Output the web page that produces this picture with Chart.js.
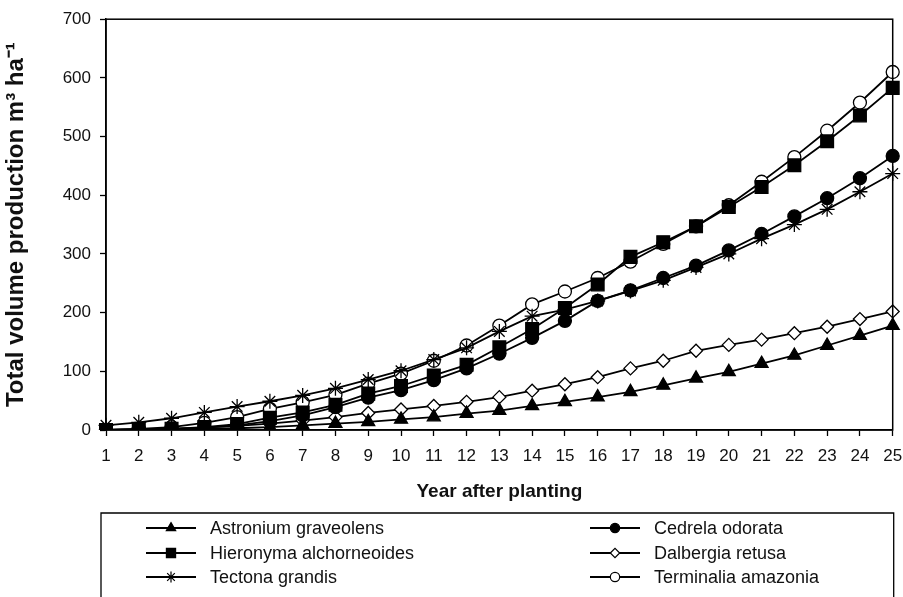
<!DOCTYPE html>
<html lang="en">
<head>
  <meta charset="UTF-8">
  <title>Total volume production</title>
  <script src="https://cdn.jsdelivr.net/npm/chart.js"></script>
  <style>
    body {
      margin: 0;
      background: #fff;
    }
    canvas {
      display: block;
    }
  </style>
</head>
<body>
  <canvas id="volumeChart" width="903" height="597"></canvas>

  <script>
    // data (m3 per ha)
    const years = [1, 2, 3, 4, 5, 6, 7, 8, 9, 10, 11, 12, 13, 14, 15, 16, 17, 18, 19, 20, 21, 22, 23, 24, 25];
    const yTicks = [0, 100, 200, 300, 400, 500, 600, 700];

    const astronium = [0, 0.5, 1, 2, 3, 5, 8, 11, 14, 18, 22, 28, 33, 41, 48, 56, 65, 76, 88, 99, 113, 127, 144, 161, 178];
    const cedrela = [0, 1, 2, 4, 8, 15, 25, 39, 55, 68, 85, 105, 130, 157, 186, 220, 238, 259, 280, 306, 334, 364, 395, 429, 467];
    const hieronyma = [0, 1, 2, 5, 10, 21, 30, 43, 62, 75, 93, 111, 141, 172, 208, 248, 295, 320, 347, 380, 414, 451, 492, 536, 583];
    const dalbergia = [0, 1, 2, 4, 7, 11, 16, 22, 29, 35, 41, 48, 56, 67, 78, 90, 105, 118, 135, 145, 154, 165, 176, 189, 202];
    const tectona = [8, 13, 20, 30, 40, 49, 59, 71, 86, 101, 120, 140, 168, 194, 205, 220, 237, 255, 277, 300, 326, 350, 376, 406, 437];
    const terminalia = [0, 2, 5, 12, 22, 36, 47, 60, 79, 96, 118, 144, 178, 214, 236, 259, 287, 317, 347, 383, 423, 465, 510, 558, 610];

    const FONT = "'Liberation Sans', Arial, Helvetica, sans-serif";

    function series(label, data, style, fill, radius) {
      return {
        label: label,
        data: data,
        borderColor: '#000',
        borderWidth: 1.8,
        pointStyle: style,
        pointRadius: radius,
        pointBackgroundColor: fill,
        pointBorderColor: '#000',
        pointBorderWidth: 1.3,
        tension: 0
      };
    }

    // box around the plot area
    const frame = {
      id: 'frame',
      afterDatasetsDraw(chart) {
        const a = chart.chartArea, ctx = chart.ctx;
        ctx.save();
        ctx.strokeStyle = '#000';
        ctx.lineWidth = 1.5;
        ctx.strokeRect(a.left, a.top, a.right - a.left, a.bottom - a.top);
        ctx.restore();
      }
    };

    // two-column boxed legend under the axis title
    const boxLegend = {
      id: 'boxLegend',
      afterDraw(chart) {
        const ctx = chart.ctx;
        const a = chart.chartArea;
        const boxLeft = 101, boxTop = 513, boxRight = a.right + 1;
        const rows = [528, 553, 577];
        const cols = [171, 615];
        const order = [0, 2, 4, 1, 3, 5]; // column-wise
        ctx.save();
        ctx.strokeStyle = '#000';
        ctx.lineWidth = 1.3;
        ctx.beginPath();
        ctx.moveTo(boxLeft, chart.height);
        ctx.lineTo(boxLeft, boxTop);
        ctx.lineTo(boxRight, boxTop);
        ctx.lineTo(boxRight, chart.height);
        ctx.stroke();

        ctx.font = '18px ' + FONT;
        ctx.textBaseline = 'middle';
        order.forEach((dsIndex, i) => {
          const ds = chart.data.datasets[dsIndex];
          const cx = cols[Math.floor(i / 3)];
          const cy = rows[i % 3];
          ctx.strokeStyle = '#000';
          ctx.lineWidth = 1.8;
          ctx.beginPath();
          ctx.moveTo(cx - 25, cy);
          ctx.lineTo(cx + 25, cy);
          ctx.stroke();
          ctx.fillStyle = ds.pointBackgroundColor;
          ctx.strokeStyle = '#000';
          ctx.lineWidth = 1.2;
          Chart.helpers.drawPoint(ctx, {
            pointStyle: ds.pointStyle,
            radius: ds.pointRadius * 0.72,
            rotation: 0,
            borderWidth: 1.2
          }, cx, cy);
          ctx.fillStyle = '#111';
          ctx.fillText(ds.label, cx + 39, cy + 1);
        });
        ctx.restore();
      }
    };

    const ctx = document.getElementById('volumeChart').getContext('2d');
    new Chart(ctx, {
      type: 'line',
      data: {
        labels: years,
        datasets: [
          series('Astronium graveolens', astronium, 'triangle', '#000', 7.5),
          series('Cedrela odorata', cedrela, 'circle', '#000', 6.5),
          series('Hieronyma alchorneoides', hieronyma, 'rect', '#000', 9),
          series('Dalbergia retusa', dalbergia, 'rectRot', '#fff', 6.5),
          series('Tectona grandis', tectona, 'star', '#fff', 7.5),
          series('Terminalia amazonia', terminalia, 'circle', '#fff', 6.5)
        ]
      },
      options: {
        responsive: false,
        animation: false,
        layout: {
          padding: { top: 14, left: 0, right: 10, bottom: 82 }
        },
        plugins: {
          legend: { display: false },
          tooltip: { enabled: false }
        },
        scales: {
          x: {
            type: 'category',
            offset: false,
            afterFit(scale) {
              scale.height = 85;
              scale.paddingLeft = 0;
              scale.paddingRight = 0;
            },
            grid: {
              drawOnChartArea: false,
              drawTicks: true,
              tickLength: 6,
              tickWidth: 1.3,
              tickColor: '#000',
              offset: false
            },
            border: { color: '#000', width: 1.5 },
            ticks: {
              color: '#111',
              padding: 10,
              maxRotation: 0,
              autoSkip: false,
              font: { family: FONT, size: 17 }
            },
            title: {
              display: true,
              text: 'Year after planting',
              color: '#111',
              font: { family: FONT, size: 19, weight: 'bold' },
              padding: { top: 0, bottom: 12 }
            }
          },
          y: {
            min: 0,
            max: 700,
            afterFit(scale) { scale.width = 106; },
            afterBuildTicks(scale) {
              scale.ticks = yTicks.map(v => ({ value: v }));
            },
            grid: {
              drawOnChartArea: false,
              drawTicks: true,
              tickLength: 6,
              tickWidth: 1.3,
              tickColor: '#000'
            },
            border: { color: '#000', width: 1.5 },
            ticks: {
              color: '#111',
              padding: 9,
              font: { family: FONT, size: 17 }
            },
            title: {
              display: true,
              text: 'Total volume production m³ ha⁻¹',
              color: '#111',
              font: { family: FONT, size: 24, weight: 'bold' },
              padding: { top: 2, bottom: 0 }
            }
          }
        }
      },
      plugins: [frame, boxLegend]
    });
  </script>
</body>
</html>
